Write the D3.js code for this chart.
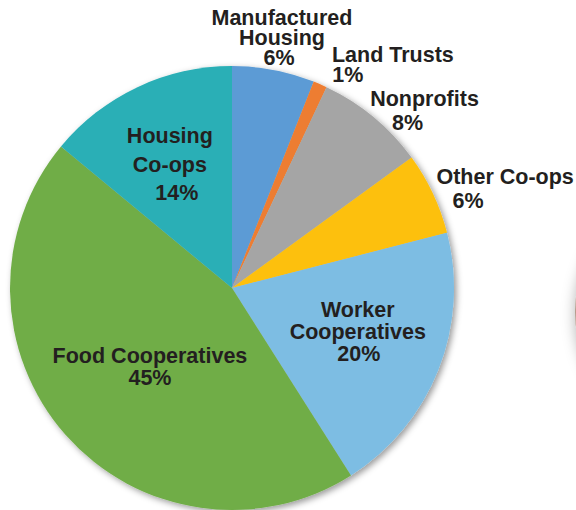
<!DOCTYPE html>
<html lang="en">
<head>
  <meta charset="UTF-8">
  <title>Cooperatives share</title>
  <script src="https://d3js.org/d3.v7.min.js"></script>
  <style>
    html, body { margin: 0; padding: 0; background: #fff; }
    svg { display: block; }
  </style>
</head>
<body>
  <div id="chart"></div>
<script>
// data (percent of total, clockwise from 12 o'clock)
const categories = ["Manufactured Housing", "Land Trusts", "Nonprofits", "Other Co-ops",
                    "Worker Cooperatives", "Food Cooperatives", "Housing Co-ops"];
const values = [6, 1, 8, 6, 20, 45, 14];
const labelLines = [["Manufactured", "Housing"], ["Land Trusts"], ["Nonprofits"], ["Other Co-ops"],
                    ["Worker", "Cooperatives"], ["Food Cooperatives"], ["Housing", "Co-ops"]];
const colors = ["#5b9bd5", "#ed7d31", "#a5a5a5", "#fdc010", "#7dbde3", "#70ad47", "#2aafb6"];

// label placement: radius (fraction of r), angle nudge (deg), line height, dx of the % line
const labelLayout = [
  [1.149, 0.5, 20, -3],
  [1.239, 12.4, 20, -45],
  [1.18, 7.7, 24, -17],
  [1.31, 5.1, 24, -37],
  [0.60, -2.4, 22, 1],
  [0.513, -2.5, 22, 0],
  [0.623, -1.5, 28.5, 7]
];

const width = 576, height = 510;
const cx = 232, cy = 288, r = 222;

const svg = d3.select("#chart").append("svg")
    .attr("width", width)
    .attr("height", height);

const defs = svg.append("defs");
defs.append("filter").attr("id", "shadow")
    .attr("x", "-10%").attr("y", "-10%").attr("width", "120%").attr("height", "120%")
  .append("feDropShadow")
    .attr("dx", 2.5).attr("dy", 2.5).attr("stdDeviation", 3)
    .attr("flood-color", "#000").attr("flood-opacity", 0.4);
defs.append("filter").attr("id", "softshadow")
    .attr("x", "-30%").attr("y", "-30%").attr("width", "160%").attr("height", "160%")
  .append("feDropShadow")
    .attr("dx", 0).attr("dy", 2).attr("stdDeviation", 7)
    .attr("flood-color", "#000").attr("flood-opacity", 0.3);

// edge of the neighbouring chart, cut off at the right
svg.append("circle")
    .attr("cx", 704).attr("cy", 312).attr("r", 129)
    .attr("fill", "#b59a8a")
    .attr("filter", "url(#softshadow)");

const pie = d3.pie().sort(null).value(d => d)(values);
const arc = d3.arc().innerRadius(0).outerRadius(r);

const g = svg.append("g").attr("transform", `translate(${cx},${cy})`);

g.append("g")
    .attr("filter", "url(#shadow)")
  .selectAll("path")
  .data(pie)
  .join("path")
    .attr("d", arc)
    .attr("fill", (d, i) => colors[i]);

const labels = g.append("g")
    .attr("font-family", "'Liberation Sans', Arial, sans-serif")
    .attr("font-weight", "bold")
    .attr("font-size", "21.5px")
    .attr("fill", "#231f20")
    .attr("text-anchor", "middle")
  .selectAll("text")
  .data(pie)
  .join("text")
    .each(function(d, i) {
      const [k, shift, lh, pdx] = labelLayout[i];
      const mid = (d.startAngle + d.endAngle) / 2 + shift * Math.PI / 180;
      const [x, y] = d3.pointRadial(mid, k * r);
      const lines = labelLines[i].concat([values[i] + "%"]);
      const y0 = y - (lines.length - 1) * lh / 2 + 7.5;
      const t = d3.select(this);
      lines.forEach((s, j) => {
        t.append("tspan")
          .attr("x", x + (j === lines.length - 1 ? pdx : 0))
          .attr("y", y0 + j * lh)
          .text(s);
      });
    });
</script>
</body>
</html>
